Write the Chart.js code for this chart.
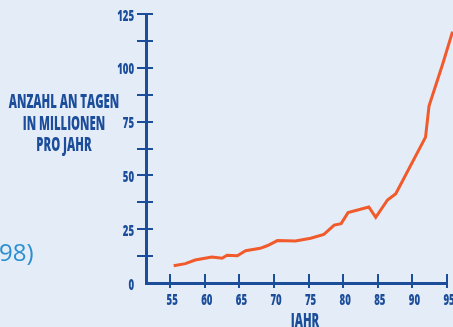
<!DOCTYPE html>
<html>
<head>
<meta charset="utf-8">
<script src="https://cdn.jsdelivr.net/npm/chart.js@4"></script>
<style>
    html, body { margin: 0; padding: 0; background: #e4ecf7; overflow: hidden; }
    #wrap { position: relative; width: 453px; height: 327px; }
    .title {
        position: absolute; color: #1b4d9b; white-space: nowrap;
        font: 800 19.5px "Open Sans", sans-serif; text-align: center;
        transform: scaleX(0.58);
    }
    #yTitle { left: -36px; top: 90px; width: 200px; line-height: 21.7px; }
    #xTitle { left: 255px; top: 306px; width: 100px; }
    #note {
        position: absolute; left: -1px; top: 235px; color: #2a8fd0;
        font: 24px "Open Sans", "Noto Sans", sans-serif;
    }
</style>
</head>
<body>
<div id="wrap">
    <canvas id="myChart" width="453" height="327"></canvas>
    <div id="yTitle" class="title">ANZAHL AN TAGEN<br>IN MILLIONEN<br>PRO JAHR</div>
    <div id="xTitle" class="title">JAHR</div>
    <div id="note">98)</div>
</div>
<script>
// Daten
let years = [55.5, 57.2, 58.6, 61.0, 62.5, 63.2, 64.7, 65.9, 68.0, 69.0, 70.5, 73.1, 75.3, 77.2, 78.7, 79.7, 80.7, 83.7, 84.7, 86.4, 87.6, 91.9, 92.4, 94.4, 95.8];
let values = [8.0, 9.0, 10.7, 12.1, 11.5, 12.9, 12.7, 15.0, 16.1, 17.3, 19.7, 19.5, 20.8, 22.6, 26.9, 27.6, 32.7, 35.3, 30.5, 38.6, 41.5, 67.8, 82.2, 102, 116.8];
let xTicks = [55, 60, 65, 70, 75, 80, 85, 90, 95];
let yTicks = [0, 12.5, 25, 37.5, 50, 62.5, 75, 87.5, 100, 112.5, 125];

const blue = '#1b4d9b';

// Tick-Striche, die die Achse kreuzen, und schmale Beschriftung
const axisDeco = {
    id: 'axisDeco',
    afterDraw(chart) {
        const ctx = chart.ctx;
        const xs = chart.scales.x, ys = chart.scales.y;
        const ax = xs.left, ay = ys.bottom;
        ctx.save();
        ctx.strokeStyle = blue;
        ctx.lineWidth = 2;
        ctx.beginPath();
        yTicks.forEach(function(v) {
            if (v === 0) return;
            const py = Math.round(ys.getPixelForValue(v));
            ctx.moveTo(ax - 9, py);
            ctx.lineTo(ax + 7, py);
        });
        xTicks.forEach(function(v) {
            const px = Math.round(xs.getPixelForValue(v));
            ctx.moveTo(px, ay - 9);
            ctx.lineTo(px, ay + 5);
        });
        ctx.stroke();

        ctx.fillStyle = blue;
        ctx.font = '800 16px "Open Sans", sans-serif';
        ctx.textBaseline = 'middle';
        yTicks.forEach(function(v) {
            if (v % 25 !== 0) return;
            const py = ys.getPixelForValue(v) + 2;
            ctx.save();
            ctx.translate(ax - 12, py);
            ctx.scale(0.6, 1);
            ctx.textAlign = 'right';
            ctx.fillText(String(v), 0, 0);
            ctx.restore();
        });
        xTicks.forEach(function(v) {
            const px = xs.getPixelForValue(v) + 2;
            ctx.save();
            ctx.translate(px, ay + 17);
            ctx.scale(0.6, 1);
            ctx.textAlign = 'center';
            ctx.fillText(String(v), 0, 0);
            ctx.restore();
        });
        ctx.restore();
    }
};

const points = years.map(function(y, i) { return { x: y, y: values[i] }; });

const ctx = document.getElementById('myChart');
const myChart = new Chart(ctx, {
    type: 'line',
    data: {
        datasets: [{
            data: points,
            borderColor: '#f15a2b',
            borderWidth: 3,
            pointRadius: 0,
            tension: 0,
            clip: false
        }]
    },
    options: {
        responsive: false,
        animation: false,
        layout: { padding: { top: 14, right: 6, left: 0, bottom: 0 } },
        plugins: { legend: { display: false }, tooltip: { enabled: false } },
        scales: {
            x: {
                type: 'linear',
                min: 51.5,
                max: 95,
                afterBuildTicks: function(scale) {
                    scale.ticks = xTicks.map(function(v) { return { value: v }; });
                },
                afterFit: function(scale) { scale.height = 44; },
                grid: { display: false },
                border: { display: true, color: blue, width: 3 },
                ticks: { display: false }
            },
            y: {
                min: 0,
                max: 125,
                afterBuildTicks: function(scale) {
                    scale.ticks = yTicks.map(function(v) { return { value: v }; });
                },
                afterFit: function(scale) { scale.width = 146; },
                grid: { display: false },
                border: { display: true, color: blue, width: 3 },
                ticks: { display: false }
            }
        }
    },
    plugins: [axisDeco]
});
</script>
</body>
</html>
